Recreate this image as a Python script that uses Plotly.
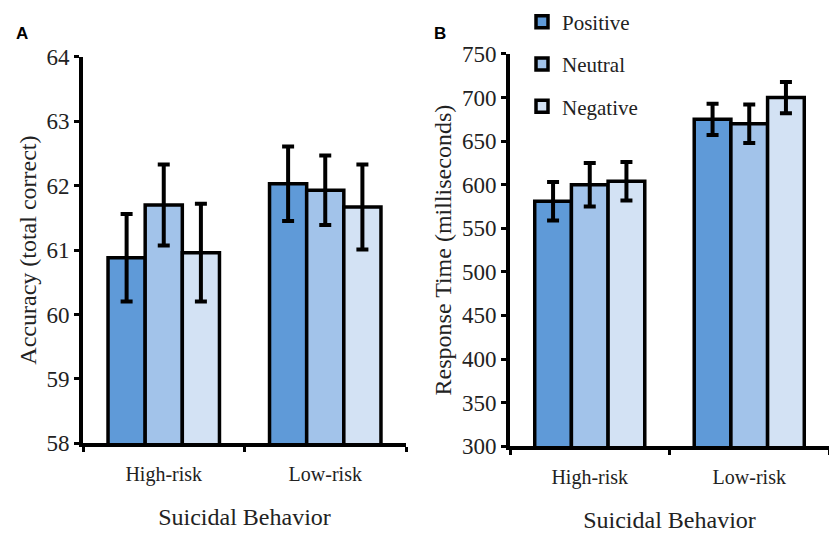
import plotly.graph_objects as go

categories = ["High-risk", "Low-risk"]
conditions = ["Positive", "Neutral", "Negative"]
colors = ["#5f9ad8", "#a2c3ea", "#d3e2f4"]

# Panel A: accuracy (total correct)
acc_mean = {
    "Positive": [60.88, 62.03],
    "Neutral": [61.70, 61.93],
    "Negative": [60.96, 61.67],
}
acc_err = {
    "Positive": [0.68, 0.58],
    "Neutral": [0.63, 0.54],
    "Negative": [0.76, 0.66],
}

# Panel B: response time (ms)
rt_mean = {
    "Positive": [581, 675],
    "Neutral": [600, 670],
    "Negative": [604, 700],
}
rt_err = {
    "Positive": [22, 18],
    "Neutral": [25, 22],
    "Negative": [22, 18],
}

acc_ticks = [58, 59, 60, 61, 62, 63, 64]
rt_ticks = [300, 350, 400, 450, 500, 550, 600, 650, 700, 750]

serif = "Liberation Serif, Times New Roman, serif"
txt = "#222222"

fig = go.Figure()
for cond, col in zip(conditions, colors):
    fig.add_trace(go.Bar(
        x=categories, y=acc_mean[cond], name=cond, showlegend=False,
        marker=dict(color=col, line=dict(color="black", width=3.5)),
        error_y=dict(type="data", array=acc_err[cond], color="black", thickness=4, width=6),
        xaxis="x", yaxis="y",
    ))
for cond, col in zip(conditions, colors):
    fig.add_trace(go.Bar(
        x=categories, y=rt_mean[cond], name=cond, showlegend=True, legendgroup=cond,
        marker=dict(color=col, line=dict(color="black", width=3.5)),
        error_y=dict(type="data", array=rt_err[cond], color="black", thickness=4, width=6),
        xaxis="x2", yaxis="y2",
    ))

W, H = 829, 546
def fx(px):
    return px / W
def fy(py):
    return 1 - py / H

axis_common = dict(
    showline=True, linecolor="black", linewidth=4, showgrid=False, zeroline=False,
    ticks="outside", tickcolor="black", tickwidth=3, ticklen=5,
    tickfont=dict(family=serif, size=23, color=txt),
)
xtickfont = dict(family=serif, size=20, color=txt)
titlefont = dict(family=serif, size=24, color=txt)

fig.update_layout(
    width=W, height=H,
    margin=dict(l=0, r=0, t=0, b=0),
    paper_bgcolor="white", plot_bgcolor="white",
    barmode="group", bargap=0.31, bargroupgap=0,
    xaxis=dict(domain=[fx(83), fx(406)], anchor="y", tickson="boundaries", ticklabelstandoff=10,
               title=dict(text="Suicidal Behavior", font=titlefont, standoff=24),
               **{**axis_common, "tickfont": xtickfont}),
    yaxis=dict(domain=[fy(452), fy(47)], anchor="x", range=[58, 64], tickvals=acc_ticks,
               title=dict(text="Accuracy (total correct)", font=titlefont, standoff=4),
               **axis_common),
    xaxis2=dict(domain=[fx(510), 1.0], anchor="y2", tickson="boundaries", ticklabelstandoff=10,
                title=dict(text="Suicidal Behavior", font=titlefont, standoff=24),
                **{**axis_common, "tickfont": xtickfont}),
    yaxis2=dict(domain=[fy(455), fy(44)], anchor="x2", range=[300, 750], tickvals=rt_ticks,
                title=dict(text="Response Time (milliseconds)", font=titlefont, standoff=4),
                **axis_common),
    legend=dict(x=fx(522), y=1.02, xanchor="left", yanchor="top",
                font=dict(family=serif, size=21, color=txt),
                bgcolor="rgba(0,0,0,0)", tracegroupgap=12, itemwidth=30),
    annotations=[
        dict(text="<b>A</b>", x=fx(14), y=fy(23), xref="paper", yref="paper",
             xanchor="left", yanchor="middle", showarrow=False,
             font=dict(family="Liberation Sans, Arial, sans-serif", size=17, color="black")),
        dict(text="<b>B</b>", x=fx(432), y=fy(23), xref="paper", yref="paper",
             xanchor="left", yanchor="middle", showarrow=False,
             font=dict(family="Liberation Sans, Arial, sans-serif", size=17, color="black")),
    ],
)

fig.write_html("out.html")
